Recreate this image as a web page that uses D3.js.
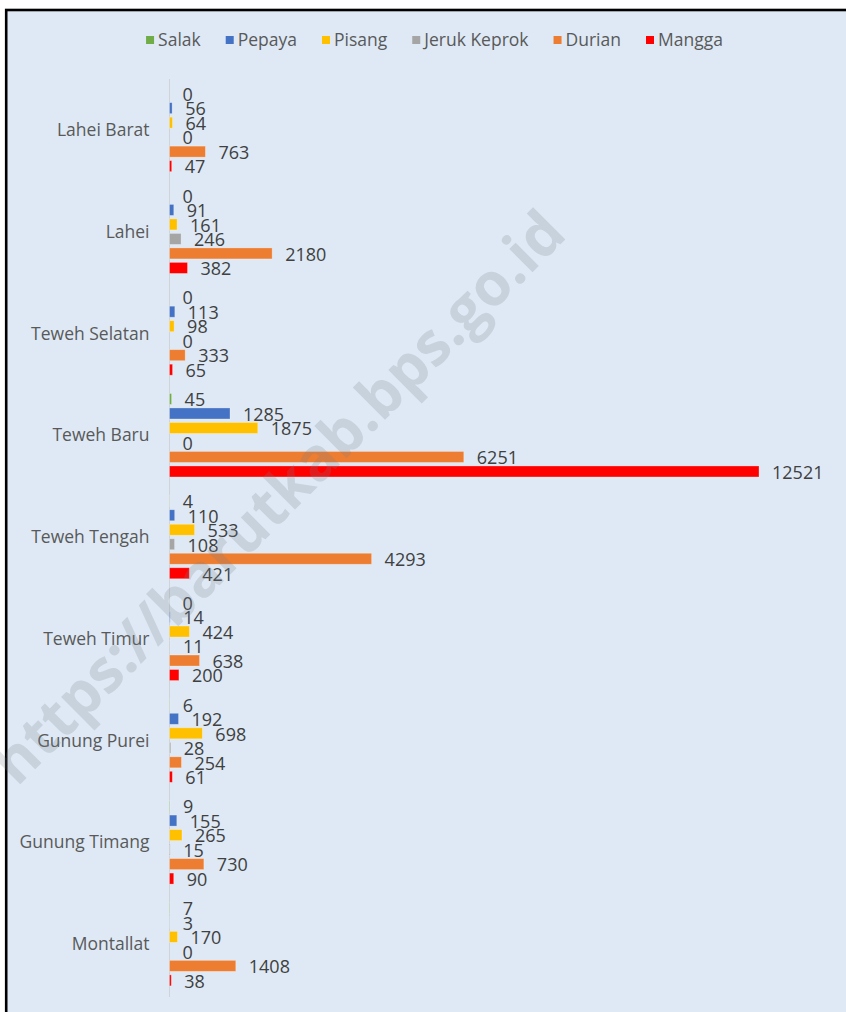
<!DOCTYPE html>
<html>
<head>
<meta charset="utf-8">
<script src="https://cdn.jsdelivr.net/npm/d3@7"></script>
<style>
  html, body { margin: 0; padding: 0; background: #ffffff; }
  #chart { width: 846px; height: 1012px; overflow: hidden; }
  text { font-family: "Open Sans", "Noto Sans", sans-serif; }
</style>
</head>
<body>
<div id="chart"></div>
<script>
// categories (kecamatan) and fruit series
const kecamatan = ["Lahei Barat", "Lahei", "Teweh Selatan", "Teweh Baru", "Teweh Tengah",
                   "Teweh Timur", "Gunung Purei", "Gunung Timang", "Montallat"];
const buah = ["Salak", "Pepaya", "Pisang", "Jeruk Keprok", "Durian", "Mangga"];

const salak  = [0, 0, 0, 45, 4, 0, 6, 9, 7];
const pepaya = [56, 91, 113, 1285, 110, 14, 192, 155, 3];
const pisang = [64, 161, 98, 1875, 533, 424, 698, 265, 170];
const jeruk  = [0, 246, 0, 0, 108, 11, 28, 15, 0];
const durian = [763, 2180, 333, 6251, 4293, 638, 254, 730, 1408];
const mangga = [47, 382, 65, 12521, 421, 200, 61, 90, 38];

const warna = ["#70ad47", "#4472c4", "#ffc000", "#a5a5a5", "#ed7d31", "#ff0000"];

const seriesValues = [salak, pepaya, pisang, jeruk, durian, mangga];

// flat rows for drawing
let rows = [];
kecamatan.forEach((k, i) => {
    buah.forEach((b, j) => {
        rows.push({kec: k, buah: b, value: seriesValues[j][i]});
    });
});

const W = 846, H = 1012;
const svg = d3.select("#chart").append("svg")
    .attr("width", W)
    .attr("height", H);

// chart area with the thick black frame (right/bottom edges fall outside the picture)
svg.append("rect")
    .attr("x", 6.2).attr("y", 10)
    .attr("width", 900).attr("height", 1100)
    .attr("fill", "#dee9f5")
    .attr("stroke", "#000")
    .attr("stroke-width", 2.6);

// scales
const x = d3.scaleLinear()
    .domain([0, d3.max(mangga)])
    .range([169.5, 759]);

const y0 = d3.scaleBand()
    .domain(kecamatan)
    .range([79, 995])
    .padding(0);

const inset = (y0.step() - 87) / 2;
const y1 = d3.scaleBand()
    .domain(buah)
    .range([inset, y0.step() - inset])
    .paddingInner(0.24)
    .paddingOuter(0.12);

const color = d3.scaleOrdinal().domain(buah).range(warna);

// vertical category axis line
svg.append("line")
    .attr("x1", x(0)).attr("x2", x(0))
    .attr("y1", y0.range()[0]).attr("y2", y0.range()[1] + 2)
    .attr("stroke", "#d0d4d9")
    .attr("stroke-width", 1);

// category labels
svg.append("g").selectAll("text")
    .data(kecamatan)
    .join("text")
    .attr("x", x(0) - 20)
    .attr("y", d => y0(d) + y0.bandwidth() / 2)
    .attr("dy", "0.35em")
    .attr("text-anchor", "end")
    .attr("font-size", "17.5px")
    .attr("fill", "#595959")
    .text(d => d);

// bars
svg.append("g").selectAll("rect")
    .data(rows)
    .join("rect")
    .attr("x", x(0))
    .attr("y", d => y0(d.kec) + y1(d.buah))
    .attr("width", d => x(d.value) - x(0))
    .attr("height", y1.bandwidth())
    .attr("fill", d => color(d.buah))
    .attr("stroke", "rgba(255,255,255,0.35)")
    .attr("stroke-width", 0.8);

// value labels
svg.append("g").selectAll("text")
    .data(rows)
    .join("text")
    .attr("x", d => x(d.value) + 13)
    .attr("y", d => y0(d.kec) + y1(d.buah) + y1.bandwidth() / 2 + 1)
    .attr("dy", "0.35em")
    .attr("font-size", "18px")
    .attr("fill", "#404040")
    .text(d => d.value);

// legend, centred over the chart
const legend = svg.append("g").attr("class", "legend");
const items = legend.selectAll("g")
    .data(buah)
    .join("g");
items.append("rect")
    .attr("width", 8).attr("height", 8)
    .attr("y", -4)
    .attr("fill", d => color(d));
items.append("text")
    .attr("x", 12)
    .attr("dy", "0.35em")
    .attr("font-size", "17.5px")
    .attr("fill", "#595959")
    .text(d => d);

let pos = 0;
const gap = 25;
items.each(function() {
    const w = 12 + d3.select(this).select("text").node().getComputedTextLength();
    d3.select(this).attr("transform", `translate(${pos},0)`);
    pos += w + gap;
});
const legendWidth = pos - gap;
legend.attr("transform", `translate(${434.5 - legendWidth / 2}, 40)`);

// watermark on top
svg.append("text")
    .attr("transform", "translate(278,497) rotate(-45)")
    .attr("text-anchor", "middle")
    .attr("dy", "0.35em")
    .attr("font-family", "'Liberation Sans', Arial, sans-serif")
    .attr("font-weight", "bold")
    .attr("font-size", "60px")
    .attr("textLength", 780)
    .attr("lengthAdjust", "spacingAndGlyphs")
    .attr("fill", "rgba(120,128,138,0.22)")
    .text("https://barutkab.bps.go.id");
</script>
</body>
</html>
